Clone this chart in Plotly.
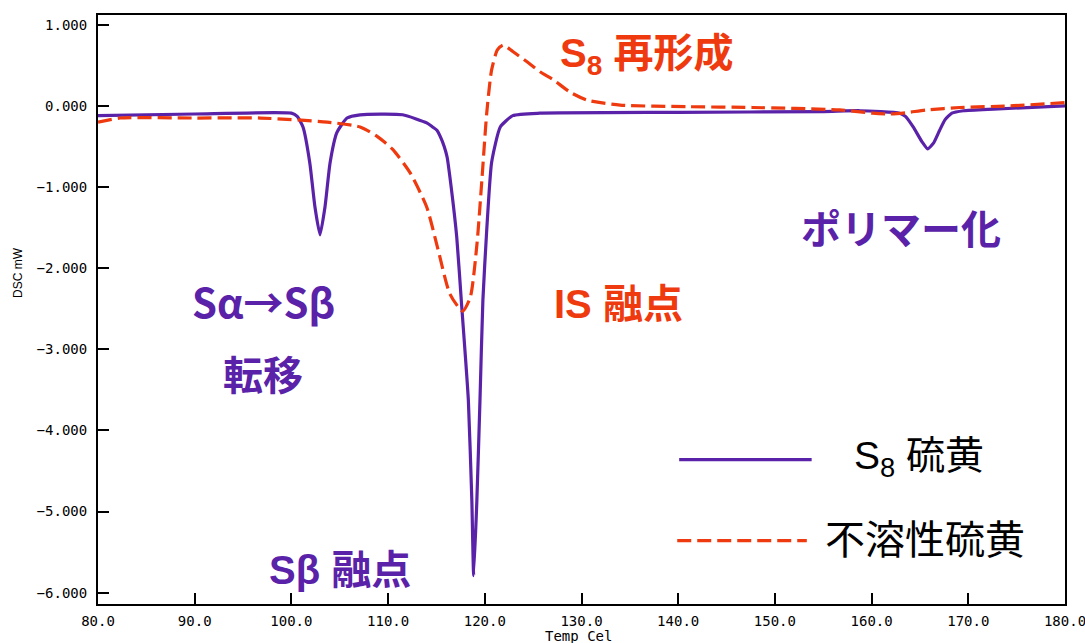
import plotly.graph_objects as go

# DSC trace of S8 sulfur (temperature in °C, heat flow in mW)
s8_temp = [80.0, 90.0, 100.0, 100.6, 101.2, 101.9, 102.44, 102.96, 103.47, 104.0, 104.7, 105.75,
           107.1, 111.5, 114.0, 114.6, 115.05, 115.4, 115.8, 116.1, 116.5, 117.1, 117.6, 118.0,
           118.3, 118.66, 118.85, 119.18, 119.5, 119.8, 120.2, 120.7, 121.6, 122.9, 125.7,
           140.0, 155.0, 158.8, 162.9, 163.5, 164.3, 165.2, 165.8, 166.4, 167.0, 167.6, 168.3,
           169.5, 172.6, 180.0]
s8_dsc = [-0.12, -0.10, -0.09, -0.13, -0.26, -0.70, -1.25, -1.59, -1.25, -0.70, -0.33, -0.15,
          -0.11, -0.11, -0.21, -0.26, -0.30, -0.38, -0.50, -0.63, -0.98, -1.62, -2.45, -3.10,
          -3.63, -4.86, -5.79, -4.86, -3.63, -2.40, -1.53, -0.70, -0.26, -0.12, -0.09,
          -0.08, -0.07, -0.06, -0.09, -0.13, -0.26, -0.44, -0.53, -0.46, -0.31, -0.17, -0.09,
          -0.06, -0.04, 0.00]

# DSC trace of insoluble sulfur
is_temp = [80.0, 82.3, 90.0, 96.8, 103.7, 107.1, 108.9, 110.5, 112.3, 114.0, 115.1, 116.4,
           117.7, 118.5, 119.2, 119.7, 120.2, 120.7, 121.3, 121.9, 122.9, 124.4, 125.7, 127.1,
           128.8, 130.6, 134.0, 140.9, 147.7, 156.7, 160.1, 161.9, 163.5, 165.7, 169.1, 174.3,
           180.0]
is_dsc = [-0.20, -0.15, -0.15, -0.15, -0.20, -0.26, -0.38, -0.54, -0.83, -1.25, -1.74, -2.32,
          -2.53, -2.36, -1.69, -0.91, -0.09, 0.44, 0.69, 0.75, 0.67, 0.54, 0.42, 0.32,
          0.17, 0.07, 0.01, -0.01, -0.02, -0.05, -0.09, -0.10, -0.085, -0.05, -0.02, 0.00,
          0.04]

x_ticks = [80, 90, 100, 110, 120, 130, 140, 150, 160, 170, 180]
x_tick_text = ["80.0", "90.0", "100.0", "110.0", "120.0", "130.0", "140.0", "150.0",
               "160.0", "170.0", "180.0"]
y_ticks = [1, 0, -1, -2, -3, -4, -5, -6]
y_tick_text = ["1.000", "0.000", "−1.000", "−2.000", "−3.000", "−4.000", "−5.000", "−6.000"]

PURPLE = "#5A22A8"
ORANGE = "#EE3A0E"
LABEL_FONT = "Liberation Sans, Arial, Noto Sans CJK JP"
CJK_FONT = "Noto Sans CJK JP, Liberation Sans"
TICK_FONT = "DejaVu Sans Mono, monospace"
DASH = "14px,6px"

W, H = 1085, 643
L, R, T, B = 98, 20, 15, 39

fig = go.Figure()
fig.add_trace(go.Scatter(x=s8_temp, y=s8_dsc, mode="lines", name="S8 硫黄",
                         line=dict(color=PURPLE, width=3.2, shape="spline", smoothing=0.5)))
fig.add_trace(go.Scatter(x=is_temp, y=is_dsc, mode="lines", name="不溶性硫黄",
                         line=dict(color=ORANGE, width=3.2, dash=DASH,
                                   shape="spline", smoothing=0.6)))

# Hand-drawn legend samples
fig.add_shape(type="line", x0=140.1, x1=153.8, y0=-4.36, y1=-4.36,
              line=dict(color=PURPLE, width=3.2))
fig.add_shape(type="line", x0=139.9, x1=153.3, y0=-5.36, y1=-5.36,
              line=dict(color=ORANGE, width=3.2, dash=DASH))

annotations = [
    dict(x=158.0, y=-4.35, text="S<sub>8</sub> 硫黄", xanchor="left",
         font=dict(size=39, color="black", family=LABEL_FONT)),
    dict(x=155.0, y=-5.35, text="不溶性硫黄", xanchor="left",
         font=dict(size=40, color="black", family=LABEL_FONT)),
    dict(x=136.7, y=0.62, text="<b>S<sub>8</sub> 再形成</b>",
         font=dict(size=40, color=ORANGE, family=LABEL_FONT)),
    dict(x=133.8, y=-2.44, text="<b>IS 融点</b>",
         font=dict(size=40, color=ORANGE, family=LABEL_FONT)),
    dict(x=163.0, y=-1.53, text="<b>ポリマー化</b>",
         font=dict(size=40, color=PURPLE, family=LABEL_FONT)),
    dict(x=97.1, y=-2.40, text="<b>Sα→Sβ</b>",
         font=dict(size=40, color=PURPLE, family=CJK_FONT)),
    dict(x=97.1, y=-3.33, text="<b>転移</b>",
         font=dict(size=40, color=PURPLE, family=LABEL_FONT)),
    dict(x=105.0, y=-5.72, text="<b>Sβ 融点</b>",
         font=dict(size=40, color=PURPLE, family=LABEL_FONT)),
]
for a in annotations:
    a.update(xref="x", yref="y", showarrow=False)


def px_to_paper(px, py):
    return (px - L) / (W - L - R), (H - B - py) / (H - T - B)


# Axis captions placed by pixel position
cx, cy = px_to_paper(18, 273)
annotations.append(dict(x=cx, y=cy, xref="paper", yref="paper", text="DSC mW",
                        textangle=-90, showarrow=False, xanchor="center", yanchor="middle",
                        font=dict(size=12, color="black", family=LABEL_FONT)))
tx, ty = px_to_paper(578, 636)
annotations.append(dict(x=tx, y=ty, xref="paper", yref="paper", text="Temp Cel",
                        showarrow=False, xanchor="center", yanchor="middle",
                        font=dict(size=14, color="black", family=TICK_FONT)))
fig.update_layout(annotations=annotations)

fig.update_layout(
    width=W, height=H,
    margin=dict(l=L, r=R, t=T, b=B, autoexpand=False),
    paper_bgcolor="white", plot_bgcolor="white",
    showlegend=False,
)
fig.update_xaxes(
    range=[80, 180], tickvals=x_ticks, ticktext=x_tick_text,
    ticks="inside", ticklen=11, tickwidth=1.5, tickcolor="black",
    showline=True, linecolor="black", linewidth=2, mirror=True,
    showgrid=False, zeroline=False, automargin=False,
    ticklabeloverflow="allow", ticklabelstandoff=3,
    tickfont=dict(family=TICK_FONT, size=14, color="black"),
)
fig.update_yaxes(
    range=[-6.14, 1.12], tickvals=y_ticks, ticktext=y_tick_text,
    ticks="inside", ticklen=11, tickwidth=1.5, tickcolor="black",
    showline=True, linecolor="black", linewidth=2, mirror=True,
    showgrid=False, zeroline=False, automargin=False, ticklabelstandoff=6,
    tickfont=dict(family=TICK_FONT, size=14, color="black"),
)

fig.write_html("out.html")
